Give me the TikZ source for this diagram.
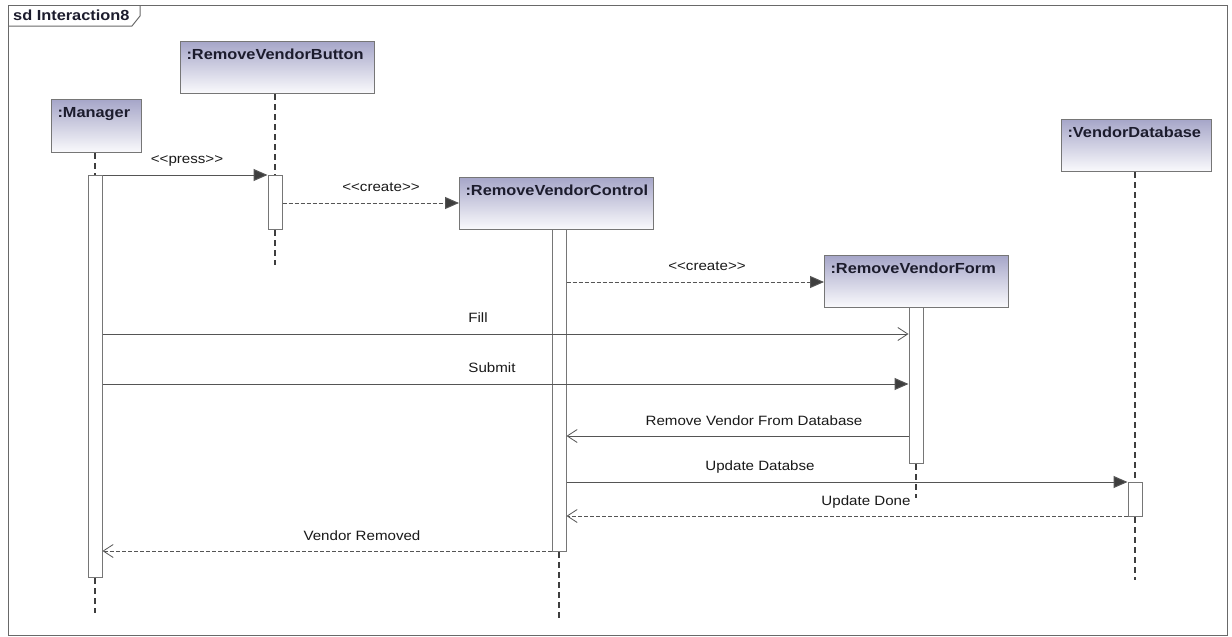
\documentclass[tikz,border=0pt]{standalone}
\usepackage{fontspec}
\setmainfont{Liberation Sans}[FakeStretch=1.12]
\usetikzlibrary{arrows.meta}
\definecolor{hdrtop}{RGB}{166,166,200}
\definecolor{hdrbot}{RGB}{250,250,253}
\definecolor{hdrline}{RGB}{118,118,118}
\definecolor{hdrtext}{RGB}{28,28,45}
\definecolor{lifecol}{RGB}{62,62,62}
\definecolor{msgcol}{RGB}{85,85,85}
\definecolor{framecol}{RGB}{105,105,105}
\definecolor{lblcol}{RGB}{25,25,25}
\begin{document}
\begin{tikzpicture}[x=1pt,y=-1pt,
  hdr/.style={draw=hdrline, line width=1pt, top color=hdrtop, bottom color=hdrbot,
    anchor=north west, inner xsep=6pt, inner ysep=0pt, align=left,
    text height=17.5pt, font=\bfseries\fontsize{14.6}{16}\selectfont, text=hdrtext},
  actbar/.style={draw=hdrline, fill=white, line width=1pt, minimum width=14pt,
    inner sep=0pt, anchor=north},
  lifeline/.style={draw=lifecol, line width=2.8pt, dash pattern=on 6pt off 4pt},
  msg/.style={draw=msgcol, line width=1pt},
  reply/.style={msg, dash pattern=on 4pt off 2pt},
  full/.style={-{Triangle[length=14pt,width=12pt,fill=lifecol]}},
  open/.style={-{Straight Barb[length=10pt,width=13pt,line width=0.8pt]}},
  lbl/.style={anchor=base, inner sep=0pt, font=\fontsize{13.5}{15}\selectfont, text=lblcol}
]
\useasboundingbox (0,0) rectangle (1232,637);
\fill[white] (0,0) rectangle (1232,637);

% frame
\draw[framecol, line width=1pt] (8,5) rectangle (1227,635);
\draw[framecol, line width=1pt] (8,26) -- (132,26) -- (140,16) -- (140,5);
\node[anchor=base west, inner sep=0pt, font=\bfseries\fontsize{14.6}{16}\selectfont, text=hdrtext] (ttl) at (13,20.5) {sd Interaction8};

% lifeline heads
\node[hdr, text width=78pt, text depth=35.5pt] (mgr) at (51,99) {:Manager};
\node[hdr, text width=182pt, text depth=34.5pt] (btn) at (180,41) {:RemoveVendorButton};
\node[hdr, text width=182pt, text depth=34.5pt] (ctl) at (459,177) {:RemoveVendorControl};
\node[hdr, text width=172pt, text depth=34.5pt] (frm) at (824,255) {:RemoveVendorForm};
\node[hdr, text width=138pt, text depth=34.5pt] (db) at (1061,119) {:VendorDatabase};

% lifeline ends
\coordinate (mend) at (95,613);
\coordinate (bend) at (275,265);
\coordinate (cend) at (559,620);
\coordinate (fend) at (916,498);
\coordinate (dend) at (1135,580);

% activation bar tops
\path (95,175) coordinate (mtop) (275,175) coordinate (btop) (559,229) coordinate (ctop)
      (916,307) coordinate (ftop) (1135,482) coordinate (dtop);

% lifelines
\draw[lifeline] (mtop |- mgr.south) -- (mtop);
\draw[lifeline] (btop |- btn.south) -- (btop);
\draw[lifeline] (dtop |- db.south) -- (dtop);

\node[actbar, minimum height=402pt] (mbar) at (mtop) {};
\node[actbar, minimum height=54pt] (bbar) at (btop) {};
\node[actbar, minimum height=322pt] (cbar) at (ctop) {};
\node[actbar, minimum height=156pt] (fbar) at (ftop) {};
\node[actbar, minimum height=34pt] (dbar) at (dtop) {};

\draw[lifeline] (mbar.south) -- (mend);
\draw[lifeline] (bbar.south) -- (bend);
\draw[lifeline] (cbar.south) -- (cend);
\draw[lifeline] (fbar.south) -- (fend);
\draw[lifeline] (dbar.south) -- (dend);

% message levels
\path (0,175) coordinate (m1) (0,203) coordinate (m2) (0,282) coordinate (m3)
      (0,334) coordinate (m4) (0,384) coordinate (m5) (0,436) coordinate (m6)
      (0,482) coordinate (m7) (0,516) coordinate (m8) (0,551) coordinate (m9);

% messages
\draw[msg, full] (mbar.east |- m1) -- (bbar.west |- m1);
\node[lbl] (l1) at (187,163) {<\kern0pt<press>\kern0pt>};

\draw[reply, full] (bbar.east |- m2) -- (ctl.west |- m2);
\node[lbl] (l2) at (381,191) {<\kern0pt<create>\kern0pt>};

\draw[reply, full] (cbar.east |- m3) -- (frm.west |- m3);
\node[lbl] (l3) at (707,270) {<\kern0pt<create>\kern0pt>};

\draw[msg, open] (mbar.east |- m4) -- (fbar.west |- m4);
\node[lbl] (l4) at (478,322) {Fill};

\draw[msg, full] (mbar.east |- m5) -- (fbar.west |- m5);
\node[lbl] (l5) at (492,372) {Submit};

\draw[msg, open] (fbar.west |- m6) -- (cbar.east |- m6);
\node[lbl] (l6) at (754,425) {Remove Vendor From Database};

\draw[msg, full] (cbar.east |- m7) -- (dbar.west |- m7);
\node[lbl] (l7) at (760,470) {Update Databse};

\draw[reply, open] (dbar.west |- m8) -- (cbar.east |- m8);
\node[lbl] (l8) at (866,505) {Update Done};

\draw[reply, open] (cbar.west |- m9) -- (mbar.east |- m9);
\node[lbl] (l9) at (362,540) {Vendor Removed};
\end{tikzpicture}
\end{document}
